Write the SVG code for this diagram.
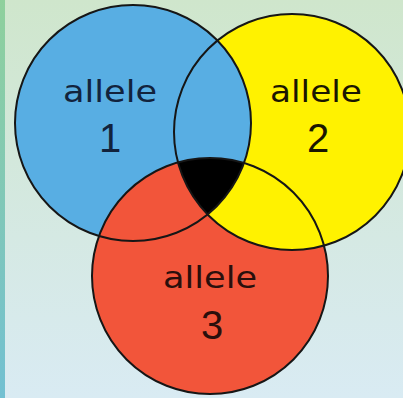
<svg xmlns="http://www.w3.org/2000/svg" width="403" height="398" viewBox="0 0 403 398">
<style>
.o{fill:none;stroke:#161616;stroke-width:2}
.w{font-family:"DejaVu Sans","Liberation Sans",sans-serif;font-size:30px;text-anchor:middle}
.n{font-family:"Liberation Sans",Arial,sans-serif;font-size:40px;text-anchor:middle}
</style>
<defs>
<linearGradient id="bg" x1="0" y1="0" x2="0" y2="1">
<stop offset="0" stop-color="#cfe6cc"/>
<stop offset="1" stop-color="#d9ebf3"/>
</linearGradient>
<linearGradient id="strip" x1="0" y1="0" x2="0" y2="1">
<stop offset="0" stop-color="#8fd09c"/>
<stop offset="1" stop-color="#72c0d2"/>
</linearGradient>
<clipPath id="cR"><circle cx="210" cy="276" r="118"/></clipPath>
<clipPath id="cB"><circle cx="133" cy="123" r="118"/></clipPath>
</defs>
<rect width="403" height="398" fill="url(#bg)"/>
<rect width="5" height="398" fill="url(#strip)"/>
<g id="allele2">
<circle cx="292" cy="132" r="118" fill="#fff200"/>
</g>
<g id="allele1">
<circle cx="133" cy="123" r="118" fill="#58aee3"/>
</g>
<g id="allele3">
<circle cx="210" cy="276" r="118" fill="#f2553a"/>
</g>
<g id="overlaps">
<circle cx="292" cy="132" r="118" fill="#fff200" clip-path="url(#cR)"/>
<g clip-path="url(#cR)"><circle cx="292" cy="132" r="118" fill="#000" clip-path="url(#cB)"/></g>
</g>
<g id="outlines">
<circle class="o" cx="133" cy="123" r="118"/>
<circle class="o" cx="292" cy="132" r="118"/>
<circle class="o" cx="210" cy="276" r="118"/>
</g>
<g id="labels">
<text class="w" x="110" y="102" fill="#12233d" textLength="94" lengthAdjust="spacingAndGlyphs">allele</text>
<text class="n" x="110" y="152" fill="#12233d">1</text>
<text class="w" x="316" y="102" fill="#1a1600" textLength="92" lengthAdjust="spacingAndGlyphs">allele</text>
<text class="n" x="318" y="152" fill="#1a1600">2</text>
<text class="w" x="210" y="288" fill="#2a0f0c" textLength="94" lengthAdjust="spacingAndGlyphs">allele</text>
<text class="n" x="212" y="339" fill="#2a0f0c">3</text>
</g>
</svg>
